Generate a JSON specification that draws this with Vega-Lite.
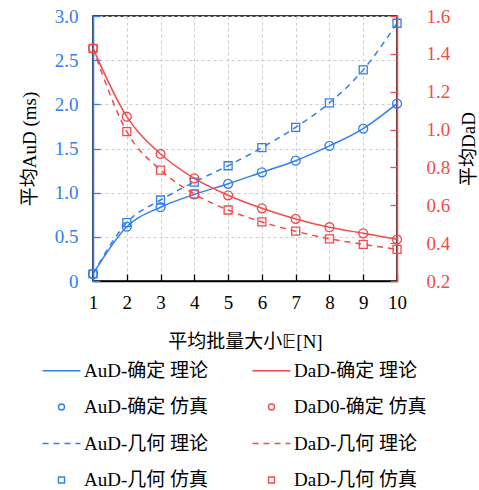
{
  "$schema": "https://vega.github.io/schema/vega-lite/v6.json",
  "width": 304,
  "height": 265,
  "autosize": {"type": "none"},
  "padding": {"left": 93, "top": 16, "right": 82, "bottom": 209},
  "background": "white",
  "config": {
    "font": "Liberation Serif, Noto Sans CJK SC",
    "view": {"stroke": "black", "strokeWidth": 1.5},
    "axis": {
      "labelFont": "Liberation Serif, Noto Sans CJK SC",
      "titleFont": "Liberation Serif, Noto Sans CJK SC",
      "labelFontSize": 19,
      "titleFontSize": 19,
      "titleFontWeight": "normal",
      "tickSize": -7,
      "tickWidth": 1.3,
      "domainWidth": 1.5,
      "gridDash": [3, 3],
      "gridColor": "#cccccc",
      "gridWidth": 1
    }
  },
  "data": {
    "values": [
      {"N": 1, "s": "AuD-确定", "v": 0.08}, {"N": 2, "s": "AuD-确定", "v": 0.615}, {"N": 3, "s": "AuD-确定", "v": 0.835}, {"N": 4, "s": "AuD-确定", "v": 0.98}, {"N": 5, "s": "AuD-确定", "v": 1.10},
      {"N": 6, "s": "AuD-确定", "v": 1.231}, {"N": 7, "s": "AuD-确定", "v": 1.362}, {"N": 8, "s": "AuD-确定", "v": 1.529}, {"N": 9, "s": "AuD-确定", "v": 1.725}, {"N": 10, "s": "AuD-确定", "v": 2.008},
      {"N": 1, "s": "AuD-几何", "v": 0.08}, {"N": 2, "s": "AuD-几何", "v": 0.66}, {"N": 3, "s": "AuD-几何", "v": 0.917}, {"N": 4, "s": "AuD-几何", "v": 1.12}, {"N": 5, "s": "AuD-几何", "v": 1.305},
      {"N": 6, "s": "AuD-几何", "v": 1.51}, {"N": 7, "s": "AuD-几何", "v": 1.74}, {"N": 8, "s": "AuD-几何", "v": 2.016}, {"N": 9, "s": "AuD-几何", "v": 2.39}, {"N": 10, "s": "AuD-几何", "v": 2.918},
      {"N": 1, "s": "DaD-确定", "v": 1.429}, {"N": 2, "s": "DaD-确定", "v": 1.068}, {"N": 3, "s": "DaD-确定", "v": 0.871}, {"N": 4, "s": "DaD-确定", "v": 0.742}, {"N": 5, "s": "DaD-确定", "v": 0.653},
      {"N": 6, "s": "DaD-确定", "v": 0.584}, {"N": 7, "s": "DaD-确定", "v": 0.528}, {"N": 8, "s": "DaD-确定", "v": 0.484}, {"N": 9, "s": "DaD-确定", "v": 0.452}, {"N": 10, "s": "DaD-确定", "v": 0.42},
      {"N": 1, "s": "DaD-几何", "v": 1.429}, {"N": 2, "s": "DaD-几何", "v": 0.989}, {"N": 3, "s": "DaD-几何", "v": 0.786}, {"N": 4, "s": "DaD-几何", "v": 0.66}, {"N": 5, "s": "DaD-几何", "v": 0.575},
      {"N": 6, "s": "DaD-几何", "v": 0.512}, {"N": 7, "s": "DaD-几何", "v": 0.463}, {"N": 8, "s": "DaD-几何", "v": 0.423}, {"N": 9, "s": "DaD-几何", "v": 0.394}, {"N": 10, "s": "DaD-几何", "v": 0.367}
    ]
  },
  "encoding": {
    "x": {
      "field": "N", "type": "quantitative",
      "scale": {"domain": [1, 10], "nice": false, "zero": false},
      "axis": {"values": [1,2,3,4,5,6,7,8,9,10], "title": "平均批量大小𝔼[N]", "labelFlush": false, "labelPadding": 19, "titlePadding": 20, "domainColor": "black", "tickColor": "black", "labelColor": "black", "grid": true}
    }
  },
  "layer": [
    {
      "encoding": {
        "y": {
          "field": "v", "type": "quantitative",
          "scale": {"domain": [0, 3], "nice": false},
          "axis": {"orient": "left", "values": [0,0.5,1,1.5,2,2.5,3], "labelExpr": "datum.value == 0 ? '0' : format(datum.value, '.1f')", "title": "平均AuD (ms)", "titleColor": "black", "labelColor": "#2f80ed", "domainColor": "#2f80ed", "tickColor": "#2f80ed", "labelPadding": 22, "titlePadding": 15, "grid": true}
        }
      },
      "layer": [
        {
          "transform": [{"filter": "datum.s == 'AuD-确定'"}],
          "mark": {"type": "line", "interpolate": "monotone", "strokeWidth": 1.5},
          "encoding": {
            "color": {
              "datum": "AuD-确定 理论",
              "scale": {
                "domain": ["AuD-确定 理论", "AuD-确定 仿真", "AuD-几何 理论", "AuD-几何 仿真", "DaD-确定 理论", "DaD0-确定 仿真", "DaD-几何 理论", "DaD-几何 仿真"],
                "range": ["#2f80ed", "#2f80ed", "#2f80ed", "#2f80ed", "#f44a4a", "#f44a4a", "#f44a4a", "#f44a4a"]
              },
              "legend": {
                "orient": "none", "legendX": -52, "legendY": 345, "columns": 2, "title": null,
                "symbolType": "stroke", "symbolSize": 1444, "symbolStrokeWidth": 1.5,
                "symbolOffset": 11,
                "labelFont": "Liberation Serif, Noto Sans CJK SC", "labelFontSize": 19, "labelOffset": 13,
                "rowPadding": 16.5, "columnPadding": 40, "labelLimit": 300,
                "encode": {
                  "symbols": {
                    "update": {
                      "shape": {"signal": "test(/理论/, datum.value) ? 'stroke' : (test(/确定/, datum.value) ? 'circle' : 'square')"},
                      "size": {"signal": "test(/理论/, datum.value) ? 1444 : 36"},
                      "strokeDash": {"signal": "test(/几何 理论/, datum.value) ? [6,5] : []"},
                      "strokeWidth": {"signal": "test(/理论/, datum.value) ? 1.5 : 1.4"},
                      "fill": {"value": "transparent"},
                      "stroke": {"scale": "color", "field": "value"}
                    }
                  }
                }
              }
            }
          }
        },
        {
          "transform": [{"filter": "datum.s == 'AuD-几何'"}],
          "mark": {"type": "line", "interpolate": "monotone", "strokeWidth": 1.5, "strokeDash": [6, 5]},
          "encoding": {"color": {"datum": "AuD-几何 理论", "legend": null}}
        },
        {
          "transform": [{"filter": "datum.s == 'AuD-确定'"}],
          "mark": {"type": "point", "shape": "circle", "size": 80, "filled": false, "strokeWidth": 1.3, "opacity": 1},
          "encoding": {"color": {"datum": "AuD-确定 仿真", "legend": null}}
        },
        {
          "transform": [{"filter": "datum.s == 'AuD-几何'"}],
          "mark": {"type": "point", "shape": "square", "size": 64, "filled": false, "strokeWidth": 1.3, "opacity": 1},
          "encoding": {"color": {"datum": "AuD-几何 仿真", "legend": null}}
        }
      ]
    },
    {
      "encoding": {
        "y": {
          "field": "v", "type": "quantitative",
          "scale": {"domain": [0.2, 1.6], "nice": false, "zero": false},
          "axis": {"orient": "right", "values": [0.2,0.4,0.6,0.8,1.0,1.2,1.4,1.6], "format": ".1f", "title": "平均DaD", "titleAngle": -90, "titleColor": "black", "labelColor": "#f44a4a", "domainColor": "#f44a4a", "tickColor": "#f44a4a", "labelPadding": 36, "titlePadding": 29, "grid": false}
        }
      },
      "layer": [
        {
          "transform": [{"filter": "datum.s == 'DaD-确定'"}],
          "mark": {"type": "line", "interpolate": "monotone", "strokeWidth": 1.5},
          "encoding": {"color": {"datum": "DaD-确定 理论", "legend": null}}
        },
        {
          "transform": [{"filter": "datum.s == 'DaD-几何'"}],
          "mark": {"type": "line", "interpolate": "monotone", "strokeWidth": 1.5, "strokeDash": [6, 5]},
          "encoding": {"color": {"datum": "DaD-几何 理论", "legend": null}}
        },
        {
          "transform": [{"filter": "datum.s == 'DaD-确定'"}],
          "mark": {"type": "point", "shape": "circle", "size": 80, "filled": false, "strokeWidth": 1.3, "opacity": 1},
          "encoding": {"color": {"datum": "DaD0-确定 仿真", "legend": null}}
        },
        {
          "transform": [{"filter": "datum.s == 'DaD-几何'"}],
          "mark": {"type": "point", "shape": "square", "size": 64, "filled": false, "strokeWidth": 1.3, "opacity": 1},
          "encoding": {"color": {"datum": "DaD-几何 仿真", "legend": null}}
        }
      ]
    }
  ],
  "resolve": {"scale": {"y": "independent"}}
}
